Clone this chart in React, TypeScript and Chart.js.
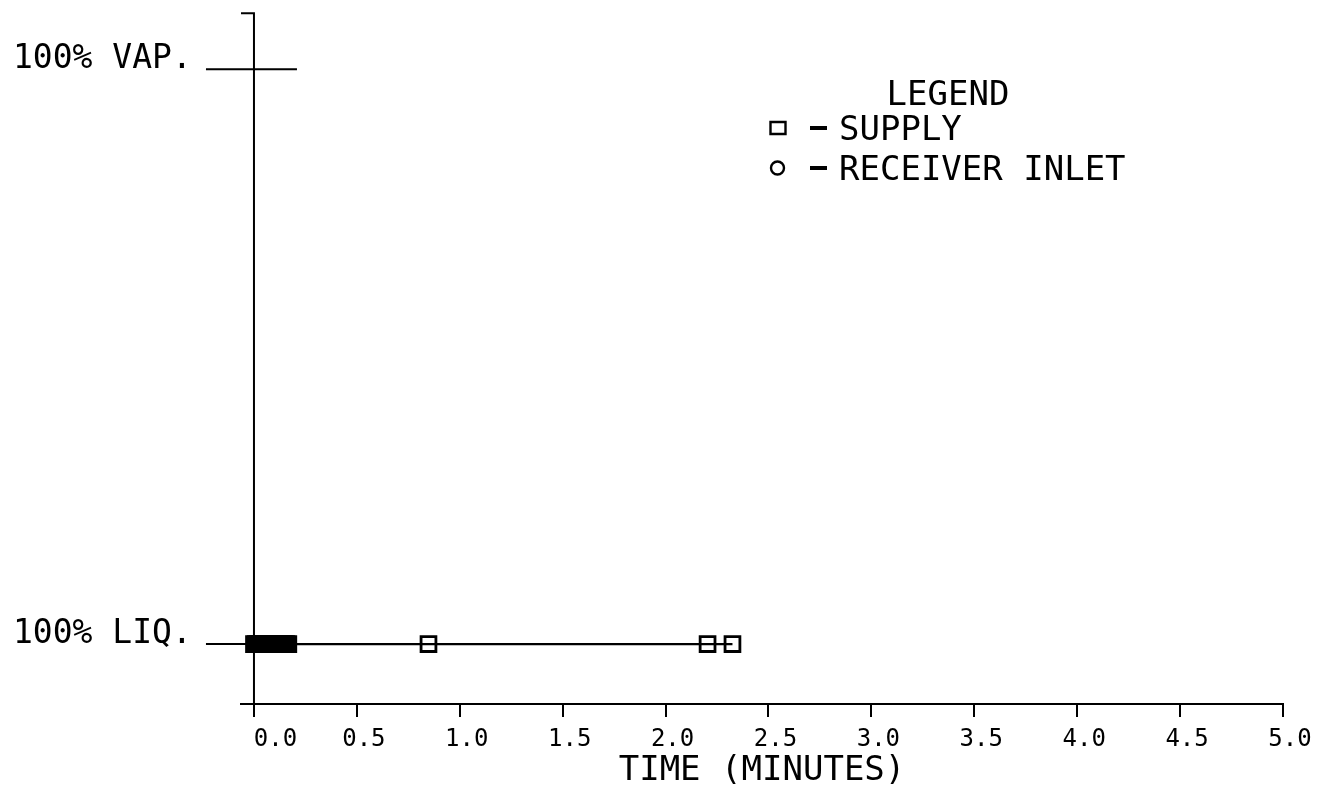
import React, { useEffect, useRef } from 'react';
import { Chart, registerables } from 'chart.js';

Chart.register(...registerables);

// ---- data ----
const supplyTimes = [
  0, 0.008, 0.017, 0.025, 0.033, 0.042, 0.05, 0.058, 0.067, 0.075, 0.083,
  0.092, 0.1, 0.108, 0.117, 0.125, 0.133, 0.142, 0.15, 0.158, 0.167,
  0.848, 2.204, 2.325,
];
const supplyQuality = [
  0, 0, 0, 0, 0, 0, 0, 0, 0, 0, 0,
  0, 0, 0, 0, 0, 0, 0, 0, 0, 0,
  0, 0, 0,
];
const receiverTimes: number[] = [];
const receiverQuality: number[] = [];

const xTickValues = [0, 0.5, 1, 1.5, 2, 2.5, 3, 3.5, 4, 4.5, 5];
const xTickLabels = ['0.0', '0.5', '1.0', '1.5', '2.0', '2.5', '3.0', '3.5', '4.0', '4.5', '5.0'];
const yTickValues = [0, 1];
const yTickLabels = ['100% LIQ.', '100% VAP.'];
const xAxisTitle = 'TIME (MINUTES)';
const legendTitle = 'LEGEND';
const seriesLabels = ['SUPPLY', 'RECEIVER INLET'];

const FONT = '"DejaVu Sans Mono", monospace';
const INK = '#000';

const plotterAxes = {
  id: 'plotterAxes',
  beforeDatasetsDraw(chart: any) {
    const { ctx, chartArea, scales } = chart;
    const x0 = scales.x.getPixelForValue(0);
    ctx.save();
    ctx.strokeStyle = INK;
    ctx.lineWidth = 2;
    ctx.beginPath();
    // vertical axis at t = 0
    ctx.moveTo(x0, chartArea.top);
    ctx.lineTo(x0, chartArea.bottom);
    // top stub
    ctx.moveTo(chartArea.left, chartArea.top);
    ctx.lineTo(x0 + 1, chartArea.top);
    // crossing ticks at 100% VAP and 100% LIQ
    yTickValues.forEach((v) => {
      const py = scales.y.getPixelForValue(v);
      ctx.moveTo(x0 - 48, py);
      ctx.lineTo(x0 + 43, py);
    });
    ctx.stroke();
    ctx.restore();
  },
};

const plotterLegend = {
  id: 'plotterLegend',
  afterDraw(chart: any) {
    const { ctx } = chart;
    ctx.save();
    ctx.fillStyle = INK;
    ctx.strokeStyle = INK;
    ctx.font = `34px ${FONT}`;
    ctx.textBaseline = 'alphabetic';
    ctx.textAlign = 'center';
    ctx.fillText(legendTitle, 948, 105);
    ctx.textAlign = 'left';
    const rows = [140, 180];
    chart.data.datasets.forEach((ds: any, i: number) => {
      const base = rows[i];
      const cy = base - 12;
      ctx.lineWidth = 2.4;
      ctx.beginPath();
      if (ds.pointStyle === 'rect') {
        ctx.rect(770.5, cy - 6, 15, 12);
      } else {
        ctx.arc(777.5, cy, 6.5, 0, Math.PI * 2);
      }
      ctx.stroke();
      ctx.fillRect(810, cy - 2, 17, 4);
      ctx.fillText(ds.label, 839, base);
    });
    ctx.restore();
  },
};

export default function App() {
  const ref = useRef<HTMLCanvasElement>(null);

  useEffect(() => {
    document.body.style.margin = '0';
    const canvas = ref.current;
    if (!canvas) return;
    const chart = new Chart(canvas, {
      type: 'scatter',
      data: {
        datasets: [
          {
            label: seriesLabels[0],
            data: supplyTimes.map((t, i) => ({ x: t, y: supplyQuality[i] })),
            showLine: true,
            borderColor: INK,
            borderWidth: 2.2,
            pointStyle: 'rect',
            pointRadius: 10.5,
            pointBorderWidth: 2.8,
            pointBorderColor: INK,
            pointBackgroundColor: 'rgba(0,0,0,0)',
            clip: false,
          },
          {
            label: seriesLabels[1],
            data: receiverTimes.map((t, i) => ({ x: t, y: receiverQuality[i] })),
            showLine: true,
            borderColor: INK,
            borderWidth: 2.2,
            pointStyle: 'circle',
            pointRadius: 8,
            pointBorderWidth: 2.8,
            pointBorderColor: INK,
            pointBackgroundColor: 'rgba(0,0,0,0)',
            clip: false,
          },
        ],
      },
      options: {
        responsive: false,
        animation: false,
        devicePixelRatio: 1,
        layout: { padding: { left: 13, top: 13, right: 40, bottom: 0 } },
        plugins: {
          legend: { display: false },
          tooltip: { enabled: false },
        },
        scales: {
          x: {
            type: 'linear',
            min: -0.063,
            max: 5,
            afterBuildTicks: (scale: any) => {
              scale.ticks = xTickValues.map((v) => ({ value: v }));
            },
            afterFit: (scale: any) => {
              scale.height = 88;
              scale.paddingLeft = 0;
              scale.paddingRight = 0;
            },
            grid: {
              drawOnChartArea: false,
              drawTicks: true,
              tickLength: 13,
              color: INK,
              lineWidth: 2,
            },
            border: { display: true, color: INK, width: 2 },
            ticks: {
              includeBounds: false,
              autoSkip: false,
              maxRotation: 0,
              padding: 8,
              labelOffset: 7,
              color: INK,
              font: { family: FONT, size: 24 },
              callback: (value: any, index: number) =>
                index === 0 ? '  ' + xTickLabels[0] : xTickLabels[index],
            },
            title: {
              display: true,
              text: xAxisTitle,
              color: INK,
              font: { family: FONT, size: 34 },
              padding: { top: 0, bottom: 0 },
            },
          },
          y: {
            type: 'linear',
            min: -0.1043,
            max: 1.0974,
            afterBuildTicks: (scale: any) => {
              scale.ticks = yTickValues.map((v) => ({ value: v }));
            },
            afterFit: (scale: any) => {
              scale.width = 228;
              scale.paddingTop = 0;
              scale.paddingBottom = 0;
            },
            grid: { display: false },
            border: { display: false },
            ticks: {
              crossAlign: 'far',
              labelOffset: -10,
              color: INK,
              font: { family: FONT, size: 33 },
              callback: (value: any, index: number) => yTickLabels[index],
            },
          },
        },
      },
      plugins: [plotterAxes, plotterLegend],
    } as any);
    return () => chart.destroy();
  }, []);

  return (
    <div style={{ width: 1323, height: 792, background: '#fff' }}>
      <canvas ref={ref} width={1323} height={792} style={{ display: 'block' }} />
    </div>
  );
}
